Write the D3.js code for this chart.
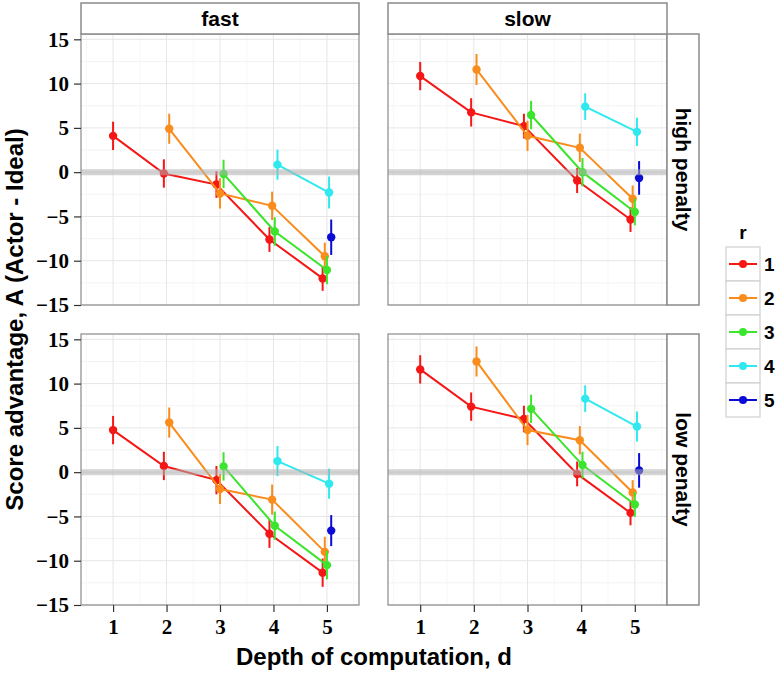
<!DOCTYPE html>
<html>
<head>
<meta charset="utf-8">
<script src="https://cdn.jsdelivr.net/npm/d3@7"></script>
<style>
  body { margin: 0; background: #fff; }
  svg { display: block; }
</style>
</head>
<body>
<svg id="chart" width="777" height="676"></svg>
<script>
// ---------------- DATA ----------------
const depths = [1, 2, 3, 4, 5];
const rLevels = [1, 2, 3, 4, 5];
const speeds = ["fast", "slow"];
const penalties = ["high penalty", "low penalty"];
const yTicks = [-15, -10, -5, 0, 5, 10, 15];
const rColors = ["#f51616", "#f98c1c", "#3be52c", "#2fe9ef", "#0b0bd6"];

// means: one array per r, values for d = r .. 5
const fastHighMean = [
  [4.1, -0.15, -1.4, -7.6, -12.0],
  [4.9, -2.4, -3.8, -9.5],
  [-0.2, -6.7, -11.05],
  [0.85, -2.3],
  [-7.35]
];
const fastHighErr = [
  [1.6, 1.6, 1.5, 1.4, 1.4],
  [1.7, 1.7, 1.6, 1.55],
  [1.6, 1.6, 1.6],
  [1.7, 1.8],
  [2.0]
];
const slowHighMean = [
  [10.85, 6.75, 5.2, -0.95, -5.35],
  [11.6, 4.1, 2.75, -3.0],
  [6.45, 0.0, -4.5],
  [7.4, 4.55],
  [-0.65]
];
const slowHighErr = [
  [1.6, 1.6, 1.4, 1.4, 1.4],
  [1.75, 1.7, 1.6, 1.5],
  [1.6, 1.6, 1.5],
  [1.5, 1.6],
  [1.9]
];
const fastLowMean = [
  [4.75, 0.7, -0.9, -6.95, -11.35],
  [5.6, -1.9, -3.1, -9.0],
  [0.65, -6.05, -10.5],
  [1.25, -1.3],
  [-6.6]
];
const fastLowErr = [
  [1.6, 1.6, 1.6, 1.6, 1.6],
  [1.7, 1.7, 1.7, 1.7],
  [1.6, 1.6, 1.6],
  [1.7, 1.7],
  [1.75]
];
const slowLowMean = [
  [11.6, 7.4, 6.0, -0.2, -4.6],
  [12.5, 4.75, 3.6, -2.3],
  [7.15, 0.8, -3.65],
  [8.3, 5.15],
  [0.2]
];
const slowLowErr = [
  [1.6, 1.6, 1.5, 1.4, 1.4],
  [1.7, 1.7, 1.6, 1.4],
  [1.6, 1.5, 1.4],
  [1.5, 1.7],
  [1.95]
];

const panelData = {
  "fast|high penalty": [fastHighMean, fastHighErr],
  "slow|high penalty": [slowHighMean, slowHighErr],
  "fast|low penalty": [fastLowMean, fastLowErr],
  "slow|low penalty": [slowLowMean, slowLowErr]
};

// ---------------- LAYOUT ----------------
const svg = d3.select("#chart");
const sans = "'Liberation Sans', Arial, Helvetica, sans-serif";
const serif = "'Liberation Serif', 'Times New Roman', serif";

const colX = [[81, 359], [388, 667]];
const rowY = [[34, 305], [334, 605]];
const stripTop = [3, 34];
const stripRight = [667, 699];
const dodgeWidth = 0.2;

function dodge(d, r) {
  const n = d; // number of r groups present at depth d (r = 1..d)
  const w = dodgeWidth / n;
  return -dodgeWidth / 2 + (r - 0.5) * w;
}

speeds.forEach((sp, ci) => {
  penalties.forEach((pe, ri) => {
    const [x0, x1] = colX[ci];
    const [y0, y1] = rowY[ri];
    const x = d3.scaleLinear().domain([0.4, 5.6]).range([x0, x1]);
    const y = d3.scaleLinear().domain([-15, 15.6]).range([y1, y0]);
    const g = svg.append("g");

    g.append("rect").attr("x", x0).attr("y", y0).attr("width", x1 - x0).attr("height", y1 - y0).attr("fill", "#fff");

    // minor grid
    const minorY = d3.range(-12.5, 15.6, 5);
    g.selectAll(".mny").data(minorY).join("line")
      .attr("x1", x0).attr("x2", x1).attr("y1", d => y(d)).attr("y2", d => y(d))
      .attr("stroke", "#f3f3f3").attr("stroke-width", 1);
    const minorX = [0.5, 1.5, 2.5, 3.5, 4.5, 5.5];
    g.selectAll(".mnx").data(minorX).join("line")
      .attr("x1", d => x(d)).attr("x2", d => x(d)).attr("y1", y0).attr("y2", y1)
      .attr("stroke", "#f7f7f7").attr("stroke-width", 1);
    // major grid
    g.selectAll(".mjy").data(yTicks).join("line")
      .attr("x1", x0).attr("x2", x1).attr("y1", d => y(d)).attr("y2", d => y(d))
      .attr("stroke", "#e6e6e6").attr("stroke-width", 1);
    g.selectAll(".mjx").data(depths).join("line")
      .attr("x1", d => x(d)).attr("x2", d => x(d)).attr("y1", y0).attr("y2", y1)
      .attr("stroke", "#e6e6e6").attr("stroke-width", 1);

    const [means, errs] = panelData[sp + "|" + pe];

    rLevels.forEach((r, k) => {
      const pts = means[k].map((m, j) => {
        const d = r + j;
        return { d, r, m, e: errs[k][j], px: x(d + dodge(d, r)) };
      });
      const col = rColors[k];
      g.append("path").datum(pts)
        .attr("d", d3.line().x(p => p.px).y(p => y(p.m)))
        .attr("fill", "none").attr("stroke", col).attr("stroke-width", 2);
      g.selectAll(null).data(pts).join("line")
        .attr("x1", p => p.px).attr("x2", p => p.px)
        .attr("y1", p => y(p.m - p.e)).attr("y2", p => y(p.m + p.e))
        .attr("stroke", col).attr("stroke-width", 2);
      g.selectAll(null).data(pts).join("circle")
        .attr("cx", p => p.px).attr("cy", p => y(p.m)).attr("r", 4.2)
        .attr("fill", col);
    });

    // zero reference line (semi-transparent, drawn on top)
    g.append("line").attr("x1", x0).attr("x2", x1).attr("y1", y(0)).attr("y2", y(0))
      .attr("stroke", "#b0b0b0").attr("stroke-opacity", 0.55).attr("stroke-width", 6);

    // panel border
    g.append("rect").attr("x", x0).attr("y", y0).attr("width", x1 - x0).attr("height", y1 - y0)
      .attr("fill", "none").attr("stroke", "#8a8a8a").attr("stroke-width", 1.2);

    // y axis (left column only)
    if (ci === 0) {
      const ax = g.append("g").attr("transform", `translate(${x0},0)`)
        .call(d3.axisLeft(y).tickValues(yTicks).tickSize(7).tickPadding(5)
          .tickFormat(v => v < 0 ? "\u2212" + Math.abs(v) : String(v)));
      ax.select(".domain").remove();
      ax.selectAll(".tick line").attr("stroke", "#333").attr("stroke-width", 1.2);
      ax.selectAll(".tick text").attr("font-family", serif).attr("font-weight", "bold")
        .attr("font-size", 21).attr("fill", "#000");
    }
    // x axis (bottom row only)
    if (ri === 1) {
      const ax = g.append("g").attr("transform", `translate(0,${y1})`)
        .call(d3.axisBottom(x).tickValues(depths).tickSize(7).tickPadding(7).tickFormat(d3.format("d")));
      ax.select(".domain").remove();
      ax.selectAll(".tick line").attr("stroke", "#333").attr("stroke-width", 1.2);
      ax.selectAll(".tick text").attr("font-family", serif).attr("font-weight", "bold")
        .attr("font-size", 21).attr("fill", "#000");
    }
    // top strip
    if (ri === 0) {
      g.append("rect").attr("x", x0).attr("y", stripTop[0]).attr("width", x1 - x0)
        .attr("height", stripTop[1] - stripTop[0]).attr("fill", "#fff")
        .attr("stroke", "#8a8a8a").attr("stroke-width", 1.5);
      g.append("text").attr("x", (x0 + x1) / 2).attr("y", 26).attr("text-anchor", "middle")
        .attr("font-family", sans).attr("font-weight", "bold").attr("font-size", 21)
        .text(sp);
    }
    // right strip
    if (ci === 1) {
      g.append("rect").attr("x", stripRight[0]).attr("y", y0).attr("width", stripRight[1] - stripRight[0])
        .attr("height", y1 - y0).attr("fill", "#fff")
        .attr("stroke", "#8a8a8a").attr("stroke-width", 1.5);
      g.append("text")
        .attr("transform", `translate(${(stripRight[0] + stripRight[1]) / 2 - 7},${(y0 + y1) / 2}) rotate(90)`)
        .attr("text-anchor", "middle")
        .attr("font-family", sans).attr("font-weight", "bold").attr("font-size", 21)
        .text(pe);
    }
  });
});

// axis titles
svg.append("text").attr("x", (81 + 667) / 2).attr("y", 665).attr("text-anchor", "middle")
  .attr("font-family", sans).attr("font-weight", "bold").attr("font-size", 24)
  .text("Depth of computation, d");
svg.append("text").attr("transform", `translate(23,${(34 + 605) / 2}) rotate(-90)`)
  .attr("text-anchor", "middle")
  .attr("font-family", sans).attr("font-weight", "bold").attr("font-size", 24)
  .text("Score advantage, A (Actor - Ideal)");

// legend
const leg = svg.append("g");
leg.append("text").attr("x", 743).attr("y", 239).attr("text-anchor", "middle")
  .attr("font-family", sans).attr("font-weight", "bold").attr("font-size", 19).text("r");
const keyY = d3.scaleBand().domain(rLevels).range([247, 417]);
rLevels.forEach((r, k) => {
  const ky = keyY(r), kh = keyY.bandwidth();
  leg.append("rect").attr("x", 726).attr("y", ky).attr("width", 34).attr("height", kh)
    .attr("fill", "#fff").attr("stroke", "#d0d0d0").attr("stroke-width", 1.2);
  leg.append("line").attr("x1", 729).attr("x2", 757).attr("y1", ky + kh / 2).attr("y2", ky + kh / 2)
    .attr("stroke", rColors[k]).attr("stroke-width", 2);
  leg.append("circle").attr("cx", 743).attr("cy", ky + kh / 2).attr("r", 4).attr("fill", rColors[k]);
  leg.append("text").attr("x", 764).attr("y", ky + kh / 2 + 7)
    .attr("font-family", sans).attr("font-weight", "bold").attr("font-size", 19).text(r);
});
</script>
</body>
</html>
